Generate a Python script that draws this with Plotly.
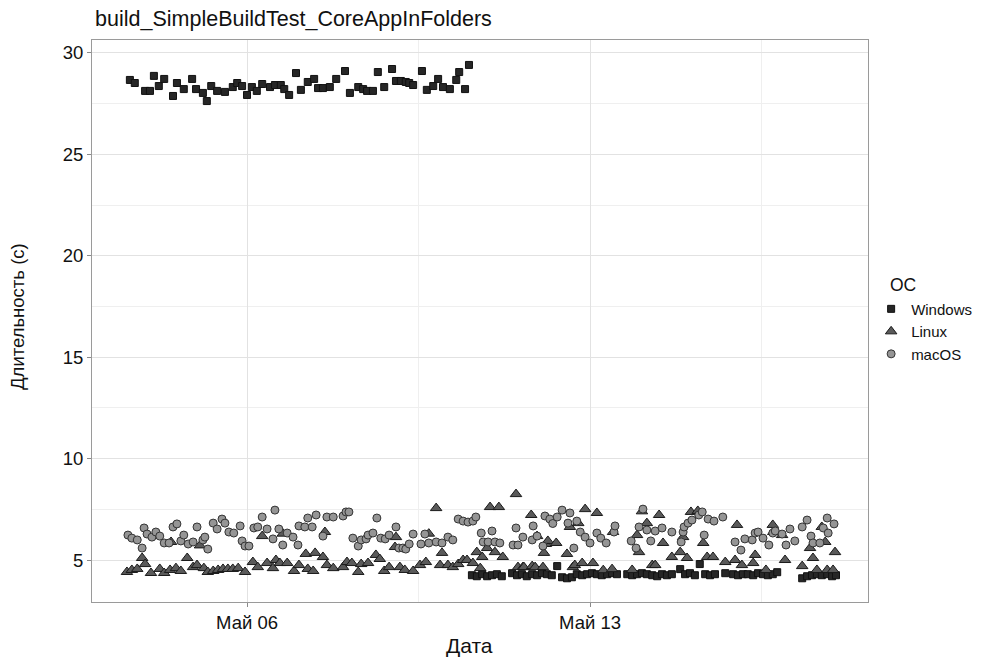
import pandas as pd
import plotly.graph_objects as go

# Build times: fractional day of May 2019 -> duration in seconds
win_day = [3.61, 3.71, 3.92, 4.02, 4.10, 4.20, 4.31, 4.49, 4.57, 4.71, 4.88, 4.96, 5.10, 5.18, 5.27,
           5.39, 5.55, 5.71, 5.80, 5.90, 6.00, 6.10, 6.20, 6.31, 6.47, 6.57, 6.69, 6.76, 6.86, 7.00,
           7.10, 7.24, 7.37, 7.45, 7.55, 7.69, 7.82, 8.00, 8.10, 8.27, 8.37, 8.45, 8.57, 8.67, 8.80,
           8.96, 9.04, 9.14, 9.24, 9.31, 9.39, 9.57, 9.67, 9.80, 9.90, 10.00, 10.14, 10.27, 10.33,
           10.45, 10.53,
           10.59, 10.69, 10.80, 10.90, 11.00, 11.10, 11.20,
           11.41, 11.51, 11.61, 11.71, 11.82, 11.92, 12.02, 12.12, 12.22, 12.33, 12.43, 12.53, 12.63,
           12.73, 12.84, 12.94, 13.04, 13.14, 13.24, 13.35, 13.45, 13.55,
           13.76, 13.86, 13.96, 14.06, 14.16, 14.27, 14.37, 14.47, 14.57, 14.67,
           14.84, 14.94, 15.04, 15.14, 15.24, 15.35, 15.45, 15.55, 15.76,
           15.92, 16.02, 16.12, 16.22, 16.33, 16.43, 16.53, 16.63, 16.73, 16.82,
           17.33, 17.43, 17.53, 17.63, 17.73, 17.84, 17.94, 18.02]
win_sec = [28.67, 28.52, 28.13, 28.13, 28.87, 28.37, 28.72, 27.88, 28.52, 28.22, 28.72, 28.22, 28.03,
           27.63, 28.37, 28.13, 28.08, 28.32, 28.52, 28.37, 27.93, 28.32, 28.13, 28.47, 28.32, 28.42,
           28.42, 28.22, 27.93, 29.01, 28.18, 28.57, 28.72, 28.27, 28.27, 28.32, 28.72, 29.11, 28.03,
           28.32, 28.22, 28.13, 28.13, 29.06, 28.32, 29.21, 28.62, 28.62, 28.57, 28.52, 28.42, 29.11,
           28.18, 28.37, 28.72, 28.32, 28.22, 28.67, 29.06, 28.22, 29.41,
           4.25, 4.20, 4.30, 4.20, 4.25, 4.30, 4.20,
           4.35, 4.25, 4.30, 4.20, 4.30, 4.25, 4.35, 4.30, 4.25, 4.70, 4.15, 4.10, 4.15, 4.30, 4.25,
           4.30, 4.35, 4.30, 4.25, 4.30, 4.35, 4.30,
           4.30, 4.25, 4.30, 4.35, 4.30, 4.25, 4.20, 4.30, 4.25, 4.30,
           4.55, 4.30, 4.35, 4.25, 4.80, 4.30, 4.25, 4.30, 4.35,
           4.30, 4.25, 4.30, 4.30, 4.25, 4.35, 4.30, 4.25, 4.30, 4.40,
           4.10, 4.20, 4.25, 4.30, 4.25, 4.30, 4.20, 4.25]

lin_day = [3.55, 3.65, 3.76, 3.86, 3.92, 4.04, 4.22, 4.31, 4.43, 4.45, 4.55, 4.65, 4.78, 4.90, 4.98,
           5.04, 5.12, 5.20, 5.31, 5.41, 5.51, 5.61, 5.71, 5.82, 5.96, 6.12, 6.22, 6.31, 6.41, 6.53,
           6.59, 6.67, 6.73, 6.82, 6.96, 7.06, 7.20, 7.24, 7.35, 7.39, 7.55, 7.59, 7.63, 7.76, 7.96,
           8.04, 8.14, 8.27, 8.33, 8.47, 8.63, 8.71, 8.80, 8.90, 9.02, 9.04, 9.12, 9.22, 9.39, 9.53,
           9.65, 9.71, 9.86, 9.94, 9.98, 10.10, 10.20, 10.31, 10.41, 10.49, 10.61, 10.69, 10.76,
           10.80, 10.90, 10.96, 11.06, 11.14, 11.22, 11.49, 11.53, 11.63, 11.65, 11.80, 11.82, 11.88,
           11.92, 12.04, 12.06, 12.10, 12.14, 12.31, 12.53, 12.59, 12.65, 12.69, 12.76, 12.84, 12.90,
           13.06, 13.14, 13.27, 13.45, 13.47, 13.86, 13.96, 14.00, 14.06, 14.16, 14.27, 14.33, 14.41,
           14.49, 14.67, 14.84, 14.90, 14.98, 15.06, 15.20, 15.31, 15.39, 15.51, 15.76, 15.96, 16.00,
           16.10, 16.33, 16.37, 16.59, 16.73, 16.74, 16.92, 16.98, 17.33, 17.49, 17.55, 17.63, 17.73,
           17.80, 17.84, 17.96, 18.00]
lin_sec = [4.41, 4.51, 4.56, 5.10, 4.80, 4.36, 4.56, 4.36, 4.51, 5.89, 4.60, 4.46, 5.10, 4.65, 4.75,
           5.72, 4.60, 4.41, 4.46, 4.51, 4.56, 4.56, 4.56, 4.60, 4.41, 4.90, 4.65, 6.18, 4.85, 4.60,
           5.00, 4.85, 6.30, 4.85, 4.46, 4.75, 5.30, 4.56, 4.46, 5.35, 5.15, 6.38, 4.75, 4.60, 4.65,
           4.90, 4.85, 4.41, 4.80, 4.85, 5.25, 5.05, 4.46, 4.65, 5.64, 6.13, 4.65, 4.51, 4.46, 4.75,
           4.90, 6.30, 7.56, 4.75, 5.35, 4.75, 4.65, 4.80, 5.00, 5.00, 4.85, 5.39, 4.60,
           5.15, 5.59, 7.61, 5.39, 7.61, 5.15, 8.25, 4.65, 4.65, 4.65, 7.22, 4.70, 4.65,
           6.18, 4.65, 5.35, 5.79, 5.94, 5.84, 5.30, 6.63, 4.65, 4.75, 6.82, 4.85, 7.51,
           4.85, 7.32, 4.50, 4.55, 6.38, 4.51, 6.23, 5.39, 7.40, 6.82, 4.75, 4.75, 7.22,
           5.84, 5.15, 5.39, 6.13, 5.10, 7.37, 7.42, 5.84, 5.15, 5.15, 4.90, 5.00, 6.73,
           4.75, 4.85, 5.25, 4.51, 6.73, 6.38, 6.23, 5.00, 4.70, 5.59, 5.10, 4.51, 6.63,
           5.89, 4.51, 4.51, 5.39]

mac_day = [3.57, 3.65, 3.76, 3.86, 3.90, 3.96, 4.06, 4.14, 4.22, 4.31, 4.41, 4.49, 4.57, 4.65, 4.71,
           4.80, 4.90, 4.98, 5.10, 5.14, 5.20, 5.31, 5.39, 5.49, 5.55, 5.63, 5.73, 5.86, 5.90, 5.96,
           6.04, 6.14, 6.22, 6.31, 6.41, 6.53, 6.57, 6.65, 6.73, 6.82, 6.94, 7.04, 7.06, 7.18, 7.24,
           7.33, 7.41, 7.55, 7.63, 7.76, 7.96, 8.02, 8.08, 8.16, 8.27, 8.33, 8.43, 8.47, 8.57, 8.65,
           8.73, 8.82, 8.90, 9.04, 9.10, 9.18, 9.24, 9.31, 9.39, 9.55, 9.63, 9.71, 9.86, 9.98, 10.10,
           10.20, 10.31, 10.41, 10.51, 10.61, 10.67, 10.78, 10.82, 10.92, 11.00, 11.06, 11.16, 11.43,
           11.49, 11.53, 11.63, 11.82, 11.84, 11.92, 12.04, 12.08, 12.18, 12.24, 12.33, 12.43, 12.55,
           12.59, 12.67, 12.73, 12.80, 12.90, 13.00, 13.14, 13.22, 13.33, 13.49, 13.51, 13.84, 13.94,
           14.00, 14.08, 14.16, 14.24, 14.33, 14.47, 14.67, 14.86, 14.90, 14.92, 15.00, 15.08, 15.22,
           15.29, 15.33, 15.41, 15.53, 15.71, 15.96, 16.08, 16.16, 16.31, 16.37, 16.43, 16.53, 16.65,
           16.73, 16.78, 16.92, 17.00, 17.08, 17.18, 17.33, 17.43, 17.51, 17.55, 17.69, 17.76, 17.84,
           17.86, 17.98]
mac_sec = [6.23, 6.08, 5.99, 5.59, 6.58, 6.28, 6.13, 6.38, 6.18, 5.84, 5.84, 6.63, 6.78, 5.94, 6.23,
           5.79, 5.89, 6.63, 5.99, 6.13, 5.54, 6.82, 6.53, 7.02, 6.82, 6.38, 6.33, 6.68, 5.94, 5.69,
           5.69, 6.58, 6.63, 7.12, 6.53, 6.04, 7.46, 6.53, 5.74, 6.33, 6.13, 5.74, 6.68, 6.63, 7.07,
           6.63, 7.22, 6.18, 7.12, 7.12, 7.17, 7.37, 7.37, 6.08, 5.69, 5.99, 6.04, 6.23, 6.33, 7.07,
           6.08, 6.04, 6.23, 6.63, 5.59, 5.59, 5.54, 5.79, 6.28, 5.79, 6.28, 5.84, 5.89, 5.84, 6.13,
           5.99, 7.02, 6.92, 6.87, 6.92, 7.12, 6.33, 5.89, 5.89, 6.43, 5.89, 5.84, 5.74,
           6.58, 5.74, 6.13, 5.99, 6.68, 6.18, 5.69, 7.17, 7.02, 6.80, 7.12, 7.46, 6.82,
           7.32, 5.59, 6.92, 6.38, 6.13, 5.84, 6.33, 6.08, 5.84, 6.38, 6.68, 5.94, 5.59,
           6.63, 7.51, 6.48, 5.94, 6.43, 6.58, 6.38, 5.89, 6.38, 6.63, 6.82, 6.97, 7.22,
           7.37, 6.23, 7.02, 6.92, 7.12, 5.89, 5.49, 6.04, 5.99, 6.33, 6.38, 6.08, 5.74,
           6.33, 6.43, 6.28, 5.74, 6.53, 5.94, 6.63, 6.97, 6.18, 5.84, 5.84, 6.58, 7.07,
           6.33, 6.78]

tick_dates = ["2019-05-06", "2019-05-13"]
tick_text = ["Май 06", "Май 13"]
y_ticks = [5, 10, 15, 20, 25, 30]


def to_time(days):
    return pd.Timestamp("2019-05-01") + pd.to_timedelta([d - 1 for d in days], unit="D")


FONT = "Liberation Sans, Arial, sans-serif"
INK = "#111111"

fig = go.Figure()
fig.add_trace(go.Scatter(
    x=to_time(win_day), y=win_sec, mode="markers", name="Windows",
    marker=dict(symbol="square", size=7, color="#262626", line=dict(color="#111111", width=1)),
))
fig.add_trace(go.Scatter(
    x=to_time(lin_day), y=lin_sec, mode="markers", name="Linux",
    marker=dict(symbol="triangle-up", size=10, color="#5a5a5a", line=dict(color="#1a1a1a", width=1)),
))
fig.add_trace(go.Scatter(
    x=to_time(mac_day), y=mac_sec, mode="markers", name="macOS",
    marker=dict(symbol="circle", size=8, color="#959595", line=dict(color="#333333", width=1)),
))

fig.update_layout(
    width=981, height=659,
    margin=dict(l=92, r=113, t=40, b=57, autoexpand=False),
    paper_bgcolor="white", plot_bgcolor="white",
    font=dict(family=FONT, size=15, color=INK),
    title=dict(text="build_SimpleBuildTest_CoreAppInFolders", x=0.004, xref="paper", xanchor="left",
               y=0.972, yref="container", yanchor="middle", font=dict(size=21.5, color=INK)),
    legend=dict(xref="container", x=0.888, xanchor="left", yref="container", y=0.556,
                yanchor="top", font=dict(size=15), itemsizing="trace", itemwidth=30,
                tracegroupgap=0, bgcolor="rgba(0,0,0,0)"),
    showlegend=True,
    annotations=[
        # legend heading
        dict(text="ОС", xref="paper", yref="paper", x=1.026, y=0.564,
             xanchor="left", yanchor="middle", showarrow=False, font=dict(size=17.5, color=INK)),
        # axis titles
        dict(text="Дата", xref="paper", yref="paper", x=0.487, y=-0.077,
             xanchor="center", yanchor="middle", showarrow=False, font=dict(size=21, color=INK)),
        dict(text="Длительность (с)", xref="paper", yref="paper", x=-0.0954, y=0.509,
             xanchor="center", yanchor="middle", textangle=-90,
             showarrow=False, font=dict(size=18.5, color=INK)),
    ],
)
fig.update_xaxes(
    range=["2019-05-02 20:05", "2019-05-18 16:09"],
    tickmode="array", tickvals=tick_dates, ticktext=tick_text,
    ticks="outside", ticklen=4, tickcolor="#8a8a8a", tickfont=dict(size=18.5, color=INK),
    showgrid=True, gridcolor="#e2e2e2", gridwidth=1,
    minor=dict(tickmode="array", tickvals=["2019-05-09 12:00", "2019-05-16 12:00"],
               showgrid=True, gridcolor="#efefef", gridwidth=1, ticks=""),
    showline=True, linecolor="#9a9a9a", linewidth=1, mirror=True, zeroline=False,
    automargin=False,
)
fig.update_yaxes(
    range=[2.93, 30.64],
    tickmode="array", tickvals=y_ticks, ticksuffix="\u00a0\u2009",
    ticks="outside", ticklen=4, tickcolor="#8a8a8a", tickfont=dict(size=18.5, color=INK),
    showgrid=True, gridcolor="#e2e2e2", gridwidth=1,
    minor=dict(tickmode="array", tickvals=[7.5, 12.5, 17.5, 22.5, 27.5],
               showgrid=True, gridcolor="#efefef", gridwidth=1, ticks=""),
    showline=True, linecolor="#9a9a9a", linewidth=1, mirror=True, zeroline=False,
    automargin=False,
)

fig.write_html("out.html")
